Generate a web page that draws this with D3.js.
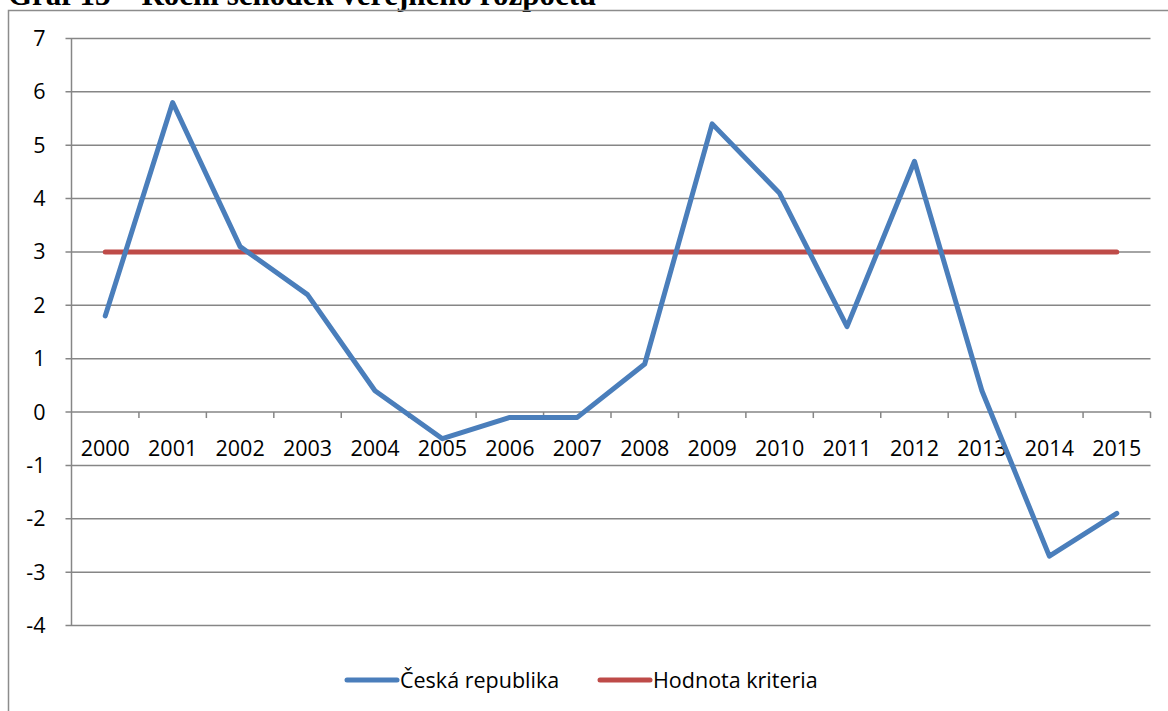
<!DOCTYPE html>
<html>
<head>
<meta charset="utf-8">
<script src="https://cdn.jsdelivr.net/npm/d3@7/dist/d3.min.js"></script>
<style>
  html, body { margin: 0; padding: 0; background: #fff; }
  svg { display: block; }
</style>
</head>
<body>
<svg id="chart" width="1168" height="711"></svg>
<script>
// Roční schodek veřejného rozpočtu (% HDP), 2000–2015
const years = ["2000", "2001", "2002", "2003", "2004", "2005", "2006", "2007",
               "2008", "2009", "2010", "2011", "2012", "2013", "2014", "2015"];
const ceskaRepublika = [1.8, 5.8, 3.1, 2.2, 0.4, -0.5, -0.1, -0.1,
                        0.9, 5.4, 4.1, 1.6, 4.7, 0.4, -2.7, -1.9];
const hodnotaKriteria = [3, 3, 3, 3, 3, 3, 3, 3, 3, 3, 3, 3, 3, 3, 3, 3];
const yTicks = [-4, -3, -2, -1, 0, 1, 2, 3, 4, 5, 6, 7];
const seriesNames = ["Česká republika", "Hodnota kriteria"];
const seriesColors = ["#4a7ebb", "#be4b48"];

const svg = d3.select("#chart");
const font = "'Open Sans', 'Noto Sans', sans-serif";
const fontSize = 21.5;

// Heading above the chart frame
svg.append("text")
  .attr("x", 8).attr("y", 5)
  .attr("font-family", "'Liberation Serif', serif")
  .attr("font-weight", "bold")
  .attr("font-size", 31)
  .attr("fill", "#000")
  .text("Graf 13 – Roční schodek veřejného rozpočtu");

// Chart frame
svg.append("path")
  .attr("d", "M8.5,711 V10.5 H1168")
  .attr("fill", "none")
  .attr("stroke", "#8c8c8c")
  .attr("stroke-width", 1.5);

const plot = { left: 71.5, right: 1150.5, top: 38.5, bottom: 625.5 };

const x = d3.scaleBand().domain(years).range([plot.left, plot.right]);
const y = d3.scaleLinear().domain([-4, 7]).range([plot.bottom, plot.top]);

const gridColor = "#868686";

// Horizontal gridlines with left tick stubs
svg.append("g")
  .selectAll("line")
  .data(yTicks)
  .join("line")
  .attr("x1", plot.left - 6).attr("x2", plot.right)
  .attr("y1", d => y(d)).attr("y2", d => y(d))
  .attr("stroke", gridColor).attr("stroke-width", 1.5);

// Vertical axis line
svg.append("line")
  .attr("x1", plot.left).attr("x2", plot.left)
  .attr("y1", plot.top).attr("y2", plot.bottom)
  .attr("stroke", gridColor).attr("stroke-width", 1.5);

// Y tick labels
svg.append("g")
  .selectAll("text")
  .data(yTicks)
  .join("text")
  .attr("x", plot.left - 26)
  .attr("y", d => y(d))
  .attr("dy", "0.35em")
  .attr("text-anchor", "end")
  .attr("font-family", font)
  .attr("font-size", fontSize)
  .attr("fill", "#000")
  .text(d => d);

// Category axis sits on the zero line, ticks at category boundaries
const boundaries = years.map(d => x(d) + x.bandwidth());
svg.append("g")
  .selectAll("line")
  .data(boundaries)
  .join("line")
  .attr("x1", d => d).attr("x2", d => d)
  .attr("y1", y(0)).attr("y2", y(0) + 6)
  .attr("stroke", gridColor).attr("stroke-width", 1.5);

svg.append("g")
  .selectAll("text")
  .data(years)
  .join("text")
  .attr("x", d => x(d) + x.bandwidth() / 2)
  .attr("y", y(0) + 36)
  .attr("dy", "0.35em")
  .attr("text-anchor", "middle")
  .attr("font-family", font)
  .attr("font-size", fontSize)
  .attr("fill", "#000")
  .text(d => d);

// Series lines
const line = d3.line()
  .x((d, i) => x(years[i]) + x.bandwidth() / 2)
  .y(d => y(d));

[hodnotaKriteria, ceskaRepublika].forEach((vals, k) => {
  const idx = k === 0 ? 1 : 0;
  svg.append("path")
    .datum(vals)
    .attr("d", line)
    .attr("fill", "none")
    .attr("stroke", seriesColors[idx])
    .attr("stroke-width", 5)
    .attr("stroke-linejoin", "round")
    .attr("stroke-linecap", "round");
});

// Legend
const legendY = 680;
const legendItems = [
  { name: seriesNames[0], color: seriesColors[0], x0: 347 },
  { name: seriesNames[1], color: seriesColors[1], x0: 600 }
];
const lg = svg.append("g");
legendItems.forEach(it => {
  lg.append("line")
    .attr("x1", it.x0).attr("x2", it.x0 + 50)
    .attr("y1", legendY).attr("y2", legendY)
    .attr("stroke", it.color).attr("stroke-width", 5)
    .attr("stroke-linecap", "round");
  lg.append("text")
    .attr("x", it.x0 + 53)
    .attr("y", legendY)
    .attr("dy", "0.35em")
    .attr("font-family", font)
    .attr("font-size", fontSize)
    .attr("fill", "#000")
    .text(it.name);
});
</script>
</body>
</html>
